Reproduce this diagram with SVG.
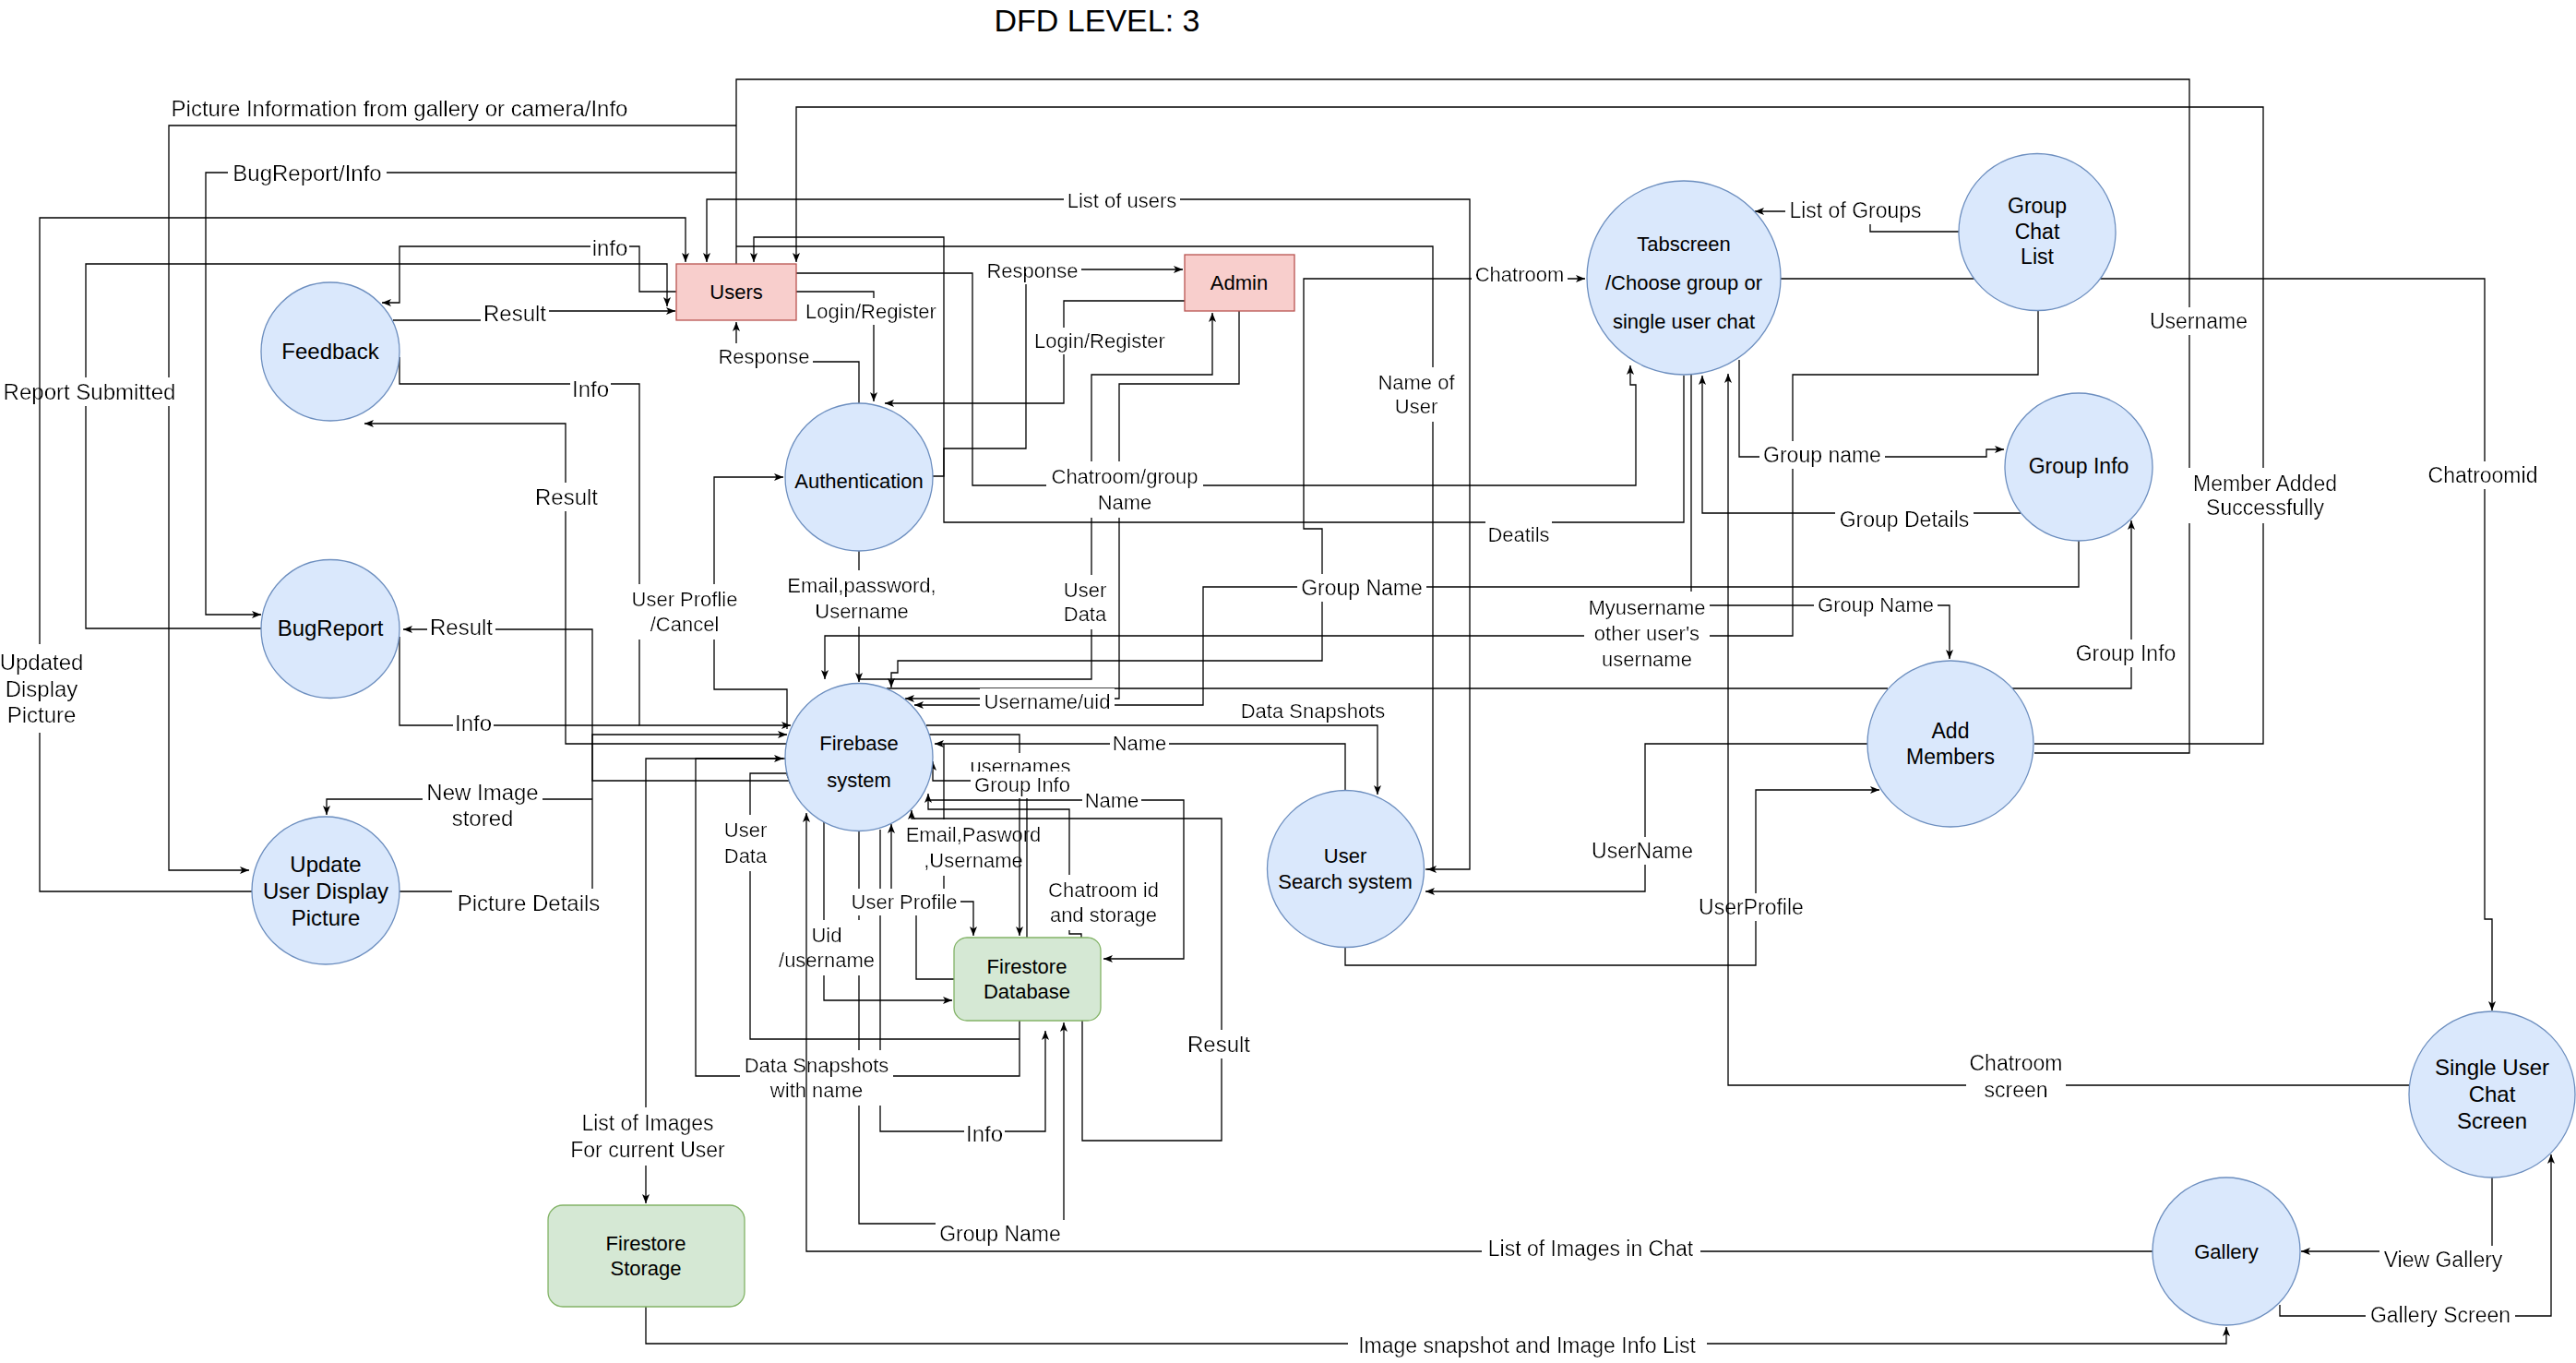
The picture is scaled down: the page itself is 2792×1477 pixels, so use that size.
<svg xmlns="http://www.w3.org/2000/svg" width="2792" height="1477" viewBox="0 0 2792 1477">
<defs>
<style>
.c{fill:none;stroke:#000;stroke-width:1.3}
.a{marker-end:url(#ar)}
text{font-family:'Liberation Sans',Arial,Helvetica,sans-serif;text-anchor:middle;fill:#000}
.l{font-size:22px;filter:url(#bg)}
.l23{font-size:23px}
.l24{font-size:24px}
.n{font-size:22px}
.n23{font-size:23px}
.n24{font-size:24px}
.p{fill:#dae8fc;stroke:#6c8ebf;stroke-width:1.3}
.e{fill:#f8cecc;stroke:#b85450;stroke-width:1.3}
.d{fill:#d5e8d4;stroke:#82b366;stroke-width:1.3}
</style>
<marker id="ar" viewBox="0 0 10 8" refX="10" refY="4" markerWidth="10" markerHeight="8" orient="auto-start-reverse" markerUnits="userSpaceOnUse"><path d="M0,0 L10,4 L0,8 L2.5,4 z" fill="#000"/></marker>
<filter id="bg" x="-0.03" y="-0.06" width="1.06" height="1.12"><feFlood flood-color="#ffffff"/><feComposite in="SourceGraphic" operator="over"/></filter>
</defs>
<rect width="2792" height="1477" fill="#fff"/>
<text x="1189" y="34" style="font-size:34px">DFD LEVEL: 3</text>

<g id="connectors">
<g id="paths-a">
<path class="c" d="M798,286 V86 H2373 V816 H2205"/>
<path class="c a" d="M798,136 H183 V943 H270"/>
<path class="c a" d="M798,187 H223 V666 H283"/>
<path class="c a" d="M2205,806 H2453 V116 H863 V284"/>
<path class="c a" d="M1545,942 H1593 V216 H766 V284"/>
<path class="c a" d="M798,267 H1553 V942 H1547"/>
<path class="c a" d="M1825,407 V566 H1023 V257 H817 V284"/>
<path class="c a" d="M1011,516 H1023 V486 H1112 V292 H1282"/>
<path class="c a" d="M863,296 H1054 V526 H1773 V417 H1767 V396"/>
<path class="c a" d="M863,316 H947 V435"/>
<path class="c a" d="M1284,326 H1153 V437 H959"/>
<path class="c a" d="M931,437 V392 H798 V349"/>
<path class="c a" d="M931,736 H1183 V406 H1314 V339"/>
<path class="c a" d="M1343,337 V416 H1213 V757 H981"/>
<path class="c a" d="M931,597 V739"/>
<path class="c a" d="M853,790 V747 H774 V517 H849"/>
<path class="c a" d="M283,681 H93 V286 H723 V332"/>
<path class="c a" d="M733,316 H693 V267 H433 V328 H414"/>
<path class="c a" d="M426,347 H540 V337 H732"/>
<path class="c a" d="M433,387 V416 H693 V786 H857"/>
<path class="c" d="M433,690 V786 H693"/>
<path class="c a" d="M853,806 H613 V459 H395"/>
<path class="c a" d="M433,966 H642 V796 H853"/>
<path class="c a" d="M856,846 H642 V682 H437"/>
<path class="c a" d="M642,866 H354 V883"/>
<path class="c a" d="M851,822 H700 V1304"/>
<path class="c a" d="M1105,1106 V1166 H754 V822 H849"/>
<path class="c a" d="M1105,1126 H813 V838 H856 V849"/>
<path class="c a" d="M2209,337 V406 H1943 V689 H894 V736"/>
<path class="c a" style="marker-start:url(#ar)" d="M966,745 V729 H973 V716 H1433 V573 H1413 V302 H1718"/>
<path class="c" d="M2046,746 H961"/>
<path class="c a" d="M2253,586 V636 H1304 V764 H991"/>
<path class="c a" d="M1004,786 H1493 V861"/>
<path class="c a" d="M1458,856 V806 H1013"/>
<path class="c a" d="M1006,867 H1283 V1039 H1196"/>
<path class="c a" d="M1172,1016 V1012 H1159 V877 H1006 V860"/>
<path class="c a" d="M1173,1106 V1236 H1324 V887 H988 V878"/>
<path class="c a" d="M1023,806 V977 H1055 V1014"/>
<path class="c a" d="M1034,1061 H993 V977 H966 V893"/>
<path class="c a" d="M893,891 V1084 H1032"/>
<path class="c a" d="M931,900 V1326 H1153 V1108"/>
<path class="c a" d="M954,899 V1226 H1133 V1117"/>
<path class="c a" d="M700,1416 V1456 H2413 V1438"/>
<path class="c a" d="M2701,1276 V1356 H2494"/>
<path class="c a" d="M2471,1414 V1426 H2765 V1251"/>
<path class="c a" d="M1930,302 H2693 V996 H2701 V1095"/>
<path class="c a" d="M2123,251 H2027 V229 H1902"/>
<path class="c a" d="M1885,390 V495 H2153 V487 H2172"/>
<path class="c a" d="M2190,556 H1845 V407"/>
<path class="c a" d="M1833,406 V656 H2113 V714"/>
<path class="c a" d="M2181,746 H2310 V564"/>
<path class="c a" d="M2024,806 H1783 V966 H1545"/>
<path class="c a" d="M1458,1027 V1046 H1903 V856 H2037"/>
</g>
<g id="labels-a">
<text class="l l24" x="433" y="126">Picture Information from gallery or camera/Info</text>
<text class="l l24" x="333" y="196">BugReport/Info</text>
<text class="l l24" x="661" y="277">info</text>
<text class="l l24" x="558" y="348">Result</text>
<text class="l l24" x="640" y="430">Info</text>
<text class="l l24" x="97" y="433">Report Submitted</text>
<text class="l l24" x="614" y="547">Result</text>
<text class="l l24" x="500" y="688">Result</text>
<text class="l l24" x="513" y="792">Info</text>
<text class="l l24" x="523" y="867">New Image<tspan x="523" y="895">stored</tspan></text>
<text class="l l24" x="573" y="987">Picture Details</text>
<text class="l" x="828" y="394">Response</text>
<text class="l" x="944" y="345">Login/Register</text>
<text class="l" x="1119" y="301">Response</text>
<text class="l" x="1192" y="377">Login/Register</text>
<text class="l" x="1216" y="225">List of users</text>
<text class="l" x="1535" y="422">Name of<tspan x="1535" y="448">User</tspan></text>
<text class="l" x="1647" y="305">Chatroom</text>
<text class="l l23" x="2011" y="236">List of Groups</text>
<text class="l l23" x="2383" y="356">Username</text>
<text class="l" x="934" y="642">Email,password,<tspan x="934" y="670">Username</tspan></text>
<text class="l" x="742" y="657">User Proflie<tspan x="742" y="684">/Cancel</tspan></text>
<text class="l" x="1176" y="647">User<tspan x="1176" y="673">Data</tspan></text>
<text class="l" x="1135" y="768">Username/uid</text>
<text class="l" x="1219" y="524">Chatroom/group<tspan x="1219" y="552">Name</tspan></text>
<text class="l l23" x="1476" y="645">Group Name</text>
<text class="l" x="1646" y="587">Deatils</text>
<text class="l" x="1785" y="666">Myusername<tspan x="1785" y="694">other user's</tspan><tspan x="1785" y="722">username</tspan></text>
<text class="l" x="2033" y="663">Group Name</text>
<text class="l l23" x="1975" y="501">Group name</text>
<text class="l l23" x="2064" y="571">Group Details</text>
<text class="l" x="1423" y="778">Data Snapshots</text>
<text class="l" x="1235" y="813">Name</text>
<text class="l" x="1205" y="875">Name</text>
<text class="l" x="1055" y="912">Email,Pasword<tspan x="1055" y="940">,Username</tspan></text>
<text class="l" x="808" y="907">User<tspan x="808" y="935">Data</tspan></text>
<text class="l" x="980" y="985">User Profile</text>
<text class="l" x="1196" y="972">Chatroom id<tspan x="1196" y="999">and storage</tspan></text>
<text class="l" x="896" y="1021">Uid<tspan x="896" y="1048">/username</tspan></text>
<text class="l" x="885" y="1162">Data Snapshots<tspan x="885" y="1189">with name</tspan></text>
<text class="l l24" x="1067" y="1237">Info</text>
<text class="l l24" x="1321" y="1140">Result</text>
<text class="l l23" x="1084" y="1345">Group Name</text>
<text class="l l23" x="702" y="1225">List of Images<tspan x="702" y="1254">For current User</tspan></text>
<text class="l l23" x="1655" y="1466">Image snapshot and Image Info List</text>
<text class="l l23" x="2648" y="1373">View Gallery</text>
<text class="l l23" x="2645" y="1433">Gallery Screen</text>
<text class="l l23" x="2691" y="523">Chatroomid</text>
<text class="l l23" x="2455" y="532">Member Added<tspan x="2455" y="558">Successfully</tspan></text>
<text class="l l23" x="2304" y="716">Group Info</text>
<text class="l l23" x="1780" y="930">UserName</text>
<text class="l l23" x="1898" y="991">UserProfile</text>
</g>
<g id="paths-b">
<path class="c a" d="M273,966 H43 V236 H743 V284"/>
<path class="c a" d="M1007,796 H1105 V1014"/>
<path class="c a" d="M1113,1016 V846 H1011 V825"/>
<path class="c a" d="M2333,1356 H874 V881"/>
<path class="c a" d="M2611,1176 H1873 V405"/>
</g>
<g id="labels-b">
<text class="l l24" x="45" y="726">Updated<tspan x="45" y="755">Display</tspan><tspan x="45" y="783">Picture</tspan></text>
<text class="l" x="1106" y="838">usernames</text>
<text class="l" x="1108" y="858">Group Info</text>
<text class="l l23" x="1724" y="1361">List of Images in Chat</text>
<text class="l l23" x="2185" y="1160">Chatroom<tspan x="2185" y="1189">screen</tspan></text>
</g>
</g>

<g id="node-users"><rect class="e" x="733" y="286" width="130" height="61"/><text class="n" x="798" y="324">Users</text></g>
<g id="node-admin"><rect class="e" x="1284" y="276" width="119" height="61"/><text class="n" x="1343" y="314">Admin</text></g>
<g id="node-feedback"><circle class="p" cx="358" cy="381" r="75"/><text class="n24" x="358" y="389">Feedback</text></g>
<g id="node-bugreport"><circle class="p" cx="358" cy="681.5" r="75"/><text class="n24" x="358" y="689">BugReport</text></g>
<g id="node-update-dp"><circle class="p" cx="353" cy="965" r="80"/><text class="n24" x="353" y="945">Update<tspan x="353" y="974">User Display</tspan><tspan x="353" y="1003">Picture</tspan></text></g>
<g id="node-auth"><circle class="p" cx="931" cy="517" r="80"/><text class="n" x="931" y="529">Authentication</text></g>
<g id="node-firebase"><circle class="p" cx="931" cy="820.5" r="80"/><text class="n" x="931" y="813">Firebase<tspan x="931" y="853">system</tspan></text></g>
<g id="node-tabscreen"><circle class="p" cx="1825" cy="301" r="105"/><text class="n" x="1825" y="272">Tabscreen<tspan x="1825" y="314">/Choose group or</tspan><tspan x="1825" y="356">single user chat</tspan></text></g>
<g id="node-groupchatlist"><circle class="p" cx="2208" cy="251.5" r="85"/><text class="n23" x="2208" y="231">Group<tspan x="2208" y="259">Chat</tspan><tspan x="2208" y="286">List</tspan></text></g>
<g id="node-groupinfo"><circle class="p" cx="2253" cy="506" r="80"/><text class="n23" x="2253" y="513">Group Info</text></g>
<g id="node-addmembers"><circle class="p" cx="2114" cy="806" r="90"/><text class="n23" x="2114" y="800">Add<tspan x="2114" y="828">Members</tspan></text></g>
<g id="node-usersearch"><circle class="p" cx="1458.5" cy="941.5" r="85"/><text class="n" x="1458" y="935">User<tspan x="1458" y="963">Search system</tspan></text></g>
<g id="node-firestore-db"><rect class="d" x="1034" y="1016" width="159" height="90" rx="14"/><text class="n" x="1113" y="1055">Firestore<tspan x="1113" y="1082">Database</tspan></text></g>
<g id="node-firestore-storage"><rect class="d" x="594" y="1306" width="213" height="110" rx="16"/><text class="n" x="700" y="1355">Firestore<tspan x="700" y="1382">Storage</tspan></text></g>
<g id="node-singleuserchat"><circle class="p" cx="2701" cy="1186" r="90"/><text class="n24" x="2701" y="1165">Single User<tspan x="2701" y="1194">Chat</tspan><tspan x="2701" y="1223">Screen</tspan></text></g>
<g id="node-gallery"><circle class="p" cx="2413" cy="1356" r="80"/><text class="n" x="2413" y="1364">Gallery</text></g>
</svg>
